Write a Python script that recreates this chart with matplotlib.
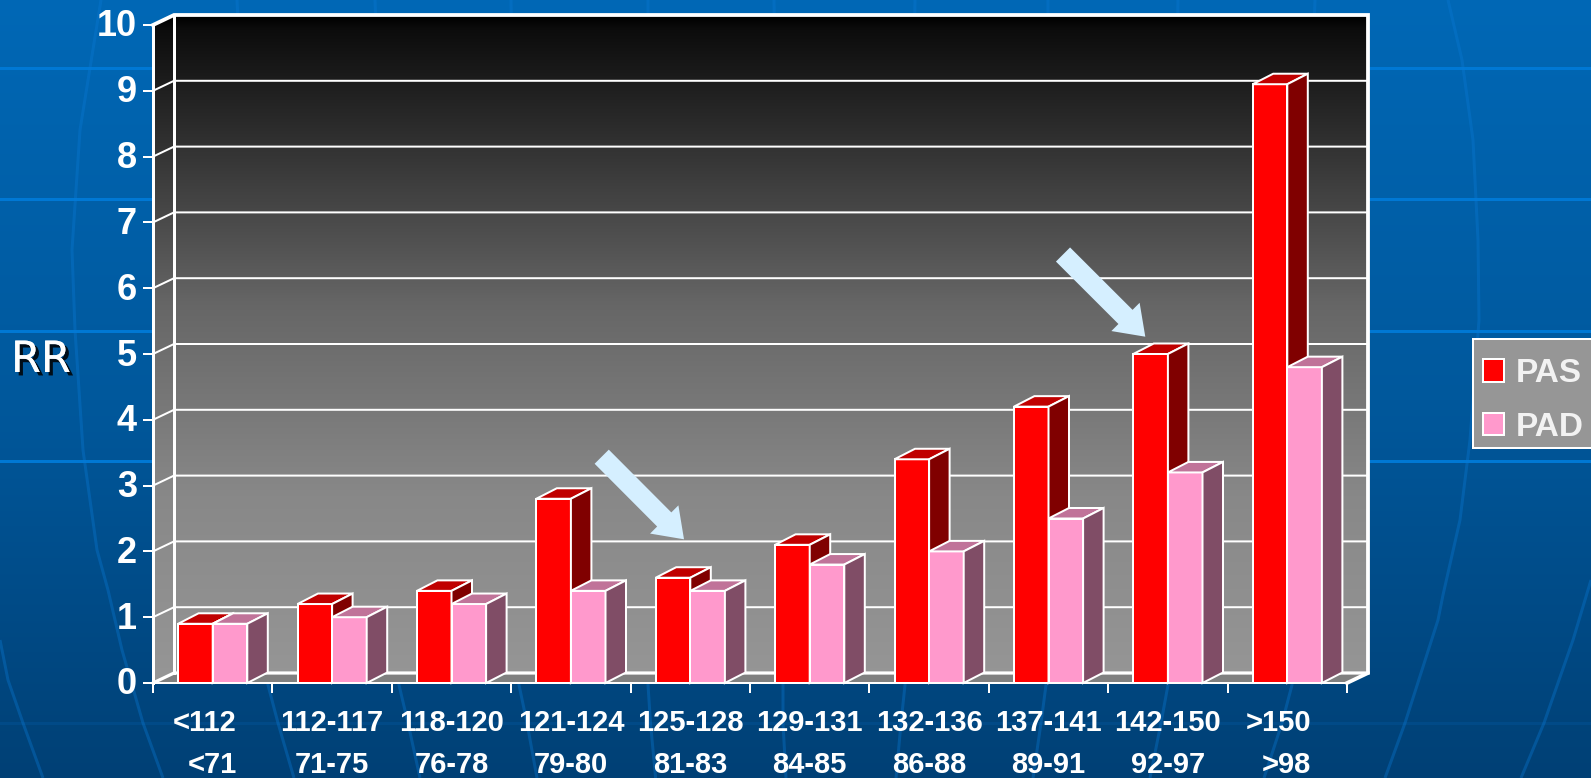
import numpy as np
import matplotlib
matplotlib.use("Agg")
import matplotlib.pyplot as plt
import matplotlib.patheffects as pe
from matplotlib.patches import Polygon, FancyArrow, Rectangle
from matplotlib.transforms import Affine2D

# ---- chart values -------------------------------------------------------
pas_labels = ["<112", "112-117", "118-120", "121-124", "125-128",
              "129-131", "132-136", "137-141", "142-150", ">150"]
pad_labels = ["<71", "71-75", "76-78", "79-80", "81-83",
              "84-85", "86-88", "89-91", "92-97", ">98"]
pas_rr = [0.9, 1.2, 1.4, 2.8, 1.6, 2.1, 3.4, 4.2, 5.0, 9.1]
pad_rr = [0.9, 1.0, 1.2, 1.4, 1.4, 1.8, 2.0, 2.5, 3.2, 4.8]
y_ticks = list(range(0, 11))

W, H = 1591, 778
plt.rcParams["font.family"] = ["Liberation Sans", "DejaVu Sans"]
fig = plt.figure(figsize=(W / 100, H / 100), dpi=100)
px = Affine2D().scale(1, -1).translate(0, H)   # slide pixels, origin top-left
PT = 0.72                                      # points per pixel at 100 dpi

# ---- slide backdrop -----------------------------------------------------
bg = fig.add_axes([0, 0, 1, 1], zorder=0)
bg.axis("off")
rows = np.arange(H)
shade = np.stack([np.zeros(H),
                  np.interp(rows, [0, 400, H], [104, 88, 64]),
                  np.interp(rows, [0, 400, H], [182, 156, 117])], axis=1)[:, None, :] / 255
bg.imshow(shade, extent=(0, W, H, 0), aspect="auto", interpolation="bilinear")

for yy in (68, 199, 330.5, 461):
    bg.plot([0, W], [yy, yy], color="#0078d4", lw=3 * PT)
bg.plot([0, W], [723, 723], color="#0a74cc", lw=3 * PT, alpha=0.16)

meridians = [
    [(101, 0), (90, 68), (80, 130), (72, 250), (75, 330), (83, 450), (97, 550),
     (108, 590), (122, 650), (143, 723), (163, 778)],
    [(1448, 0), (1462, 60), (1473, 140), (1478, 240), (1479, 320), (1470, 440),
     (1460, 520), (1443, 595), (1438, 620), (1405, 723), (1385, 778)],
    [(0, 640), (8, 680), (23, 723), (43, 778)],
    [(237, 0), (268, 685), (278, 723), (294, 778)],
    [(375, 0), (399, 685), (408, 723), (420, 778)],
    [(511, 0), (519, 685), (527, 723), (537, 778)],
    [(648, 0), (648, 685), (650.5, 723), (655.6, 778)],
    [(774, 0), (783, 685), (783, 723), (786, 778)],
    [(915, 0), (905, 685), (901, 723), (896, 778)],
    [(1048, 0), (1046, 685), (1041, 723), (1033, 778)],
    [(1178, 0), (1168, 685), (1161, 723), (1150, 778)],
    [(1315, 0), (1292, 685), (1282, 723), (1264, 778)],
    [(1591, 580), (1573, 640), (1544, 723), (1521, 778)],
]
for line in meridians:
    xs, ys = zip(*line)
    bg.plot(xs, ys, color="#0a7ad6", lw=3 * PT, alpha=0.36, solid_capstyle="butt")

# back wall and side wall share one vertical grey ramp
L, R, T, B = 153, 1347, 25, 683
BOX_DX, BOX_DY = 21, 10
ramp_pos = np.linspace(0, 1, 256)
ramp = np.interp(ramp_pos, [0, 0.02, 0.357, 0.433, 0.72, 1.0],
                 [0, 12, 85, 102, 136, 150])[:, None] / 255
wall = bg.imshow(np.repeat(ramp[:, :, None], 3, axis=2),
                 extent=(L, R + BOX_DX, B, T - BOX_DY), aspect="auto",
                 interpolation="bilinear", zorder=4)
outline = Polygon([(L, B), (L, T), (L + BOX_DX, T - BOX_DY), (R + BOX_DX, T - BOX_DY),
                   (R + BOX_DX, B - BOX_DY), (R, B)], closed=True,
                  transform=bg.transData, fc="none", ec="none")
bg.add_patch(outline)
wall.set_clip_path(outline)
bg.set_xlim(0, W)
bg.set_ylim(H, 0)

# ---- plot axes: front plane of the 3-D box ------------------------------
ax = fig.add_axes([L / W, 1 - B / H, (R - L) / W, (B - T) / H], zorder=1)
ax.patch.set_alpha(0)
ax.set_xlim(0, 10)
ax.set_ylim(0, 10)
UX = (R - L) / 10          # pixels per category
UY = (B - T) / 10          # pixels per RR unit
DX, DY = BOX_DX / UX, BOX_DY / UY
BDX, BDY = 20.5 / UX, 10.5 / UY  # depth of a bar
WHITE = "white"

# floor
ax.add_patch(Polygon([(0, 0), (DX, DY), (10 + DX, DY), (10, 0)], closed=True,
                     fc="#808080", ec="none", zorder=0.6, clip_on=False))

# grid across both walls
for k in y_ticks[1:-1]:
    ax.plot([0, DX, 10 + DX], [k, k + DY, k + DY], color=WHITE, lw=2 * PT,
            zorder=1, clip_on=False, solid_joinstyle="miter")

# box edges
ax.plot([0, DX, 10 + DX, 10 + DX, 10], [10, 10 + DY, 10 + DY, DY, 0],
        color=WHITE, lw=3.8 * PT, zorder=1.2, clip_on=False, solid_joinstyle="miter")
ax.plot([DX, DX], [DY, 10 + DY], color=WHITE, lw=3 * PT, zorder=1.2, clip_on=False)
ax.plot([0, DX, 10 + DX], [0, DY, DY], color=WHITE, lw=3.2 * PT, zorder=1.2,
        clip_on=False, solid_joinstyle="miter")

# axes lines, ticks and numbers
for side in ("top", "right"):
    ax.spines[side].set_visible(False)
ax.spines["left"].set_color(WHITE)
ax.spines["left"].set_linewidth(3 * PT)
ax.spines["bottom"].set_color(WHITE)
ax.spines["bottom"].set_linewidth(2 * PT)
ax.spines["left"].set_zorder(1.3)
ax.set_xticks(range(0, 11))
ax.set_xticklabels([])
ax.set_yticks(y_ticks)
ax.set_yticklabels([str(v) for v in y_ticks], fontsize=26, fontweight="bold",
                   color=WHITE, va="center")
ax.tick_params(axis="both", color=WHITE, length=10 * PT, width=2 * PT)
ax.tick_params(axis="y", pad=6 * PT)
for lab in ax.get_yticklabels():
    lab.set_transform(lab.get_transform() + Affine2D().translate(0, -2))

# ---- bars ---------------------------------------------------------------
BAR_W = 34.6 / UX


def draw_bar(x0, value, front, top, side):
    art = ax.bar(x0, value, BAR_W, align="edge", color=front, edgecolor=WHITE,
                 linewidth=2 * PT, zorder=3, clip_on=False)
    x1 = x0 + BAR_W
    ax.add_patch(Polygon([(x0, value), (x0 + BDX, value + BDY),
                          (x1 + BDX, value + BDY), (x1, value)], closed=True,
                         fc=top, ec=WHITE, lw=2 * PT, zorder=3, clip_on=False))
    ax.add_patch(Polygon([(x1, 0), (x1 + BDX, BDY), (x1 + BDX, value + BDY),
                          (x1, value)], closed=True,
                         fc=side, ec=WHITE, lw=2 * PT, zorder=3, clip_on=False))
    return art[0]


for i, (pas, pad) in enumerate(zip(pas_rr, pad_rr)):
    centre = i + 0.5
    red = draw_bar(centre - BAR_W, pas, "#ff0000", "#c00000", "#800000")
    pink = draw_bar(centre, pad, "#ff99cc", "#c07399", "#804d66")

# ---- two-row category labels --------------------------------------------
ROW1, ROW2 = 723 - B, 765 - B
for i, (upper, lower) in enumerate(zip(pas_labels, pad_labels)):
    # the open-ended classes sit flush right in their slot
    open_ended = upper[0] in "<>"
    shift = 24 if open_ended else 0
    ha = "right" if open_ended else "center"
    for text, row in ((upper, ROW1), (lower, ROW2)):
        ax.annotate(text, xy=(i + 0.5, 0), xytext=(shift * PT, -row * PT),
                    textcoords="offset points", ha=ha, va="center",
                    fontsize=21, fontweight="bold", color=WHITE,
                    annotation_clip=False)

# ---- legend -------------------------------------------------------------
ax.add_patch(Rectangle((1473, 338.5), 130, 109, transform=px, fc="#969696", ec=WHITE,
                       lw=2 * PT, zorder=6, clip_on=False))
leg = ax.legend([red, pink], ["PAS", "PAD"], loc="upper left",
                bbox_to_anchor=(1483, H - 358), bbox_transform=Affine2D(),
                borderaxespad=0, prop={"weight": "bold", "size": 24},
                handlelength=0.63, handleheight=0.68, handletextpad=0.35,
                borderpad=0, labelspacing=0.68, frameon=False)
leg.set_zorder(7)
for label in leg.get_texts():
    label.set_color("#f2f2f2")

# ---- axis title and call-out arrows -------------------------------------
fig.text(11, 360, "RR", transform=px, family="DejaVu Sans", fontsize=31,
         color="white", ha="left", va="center", zorder=5,
         path_effects=[pe.withSimplePatchShadow(offset=(2.5, -2.5), shadow_rgbFace="black",
                                                alpha=0.85), pe.Normal()])

for (x0, y0), (x1, y1) in (((601.7, 456.7), (684, 539.3)),
                           ((1063, 254.5), (1145.3, 336.7))):
    fig.add_artist(FancyArrow(x0, y0, x1 - x0, y1 - y0, width=20, head_width=40,
                              head_length=28, length_includes_head=True,
                              fc="#d5efff", ec="none", transform=px, zorder=5))

fig.savefig("out.png", dpi=100)
